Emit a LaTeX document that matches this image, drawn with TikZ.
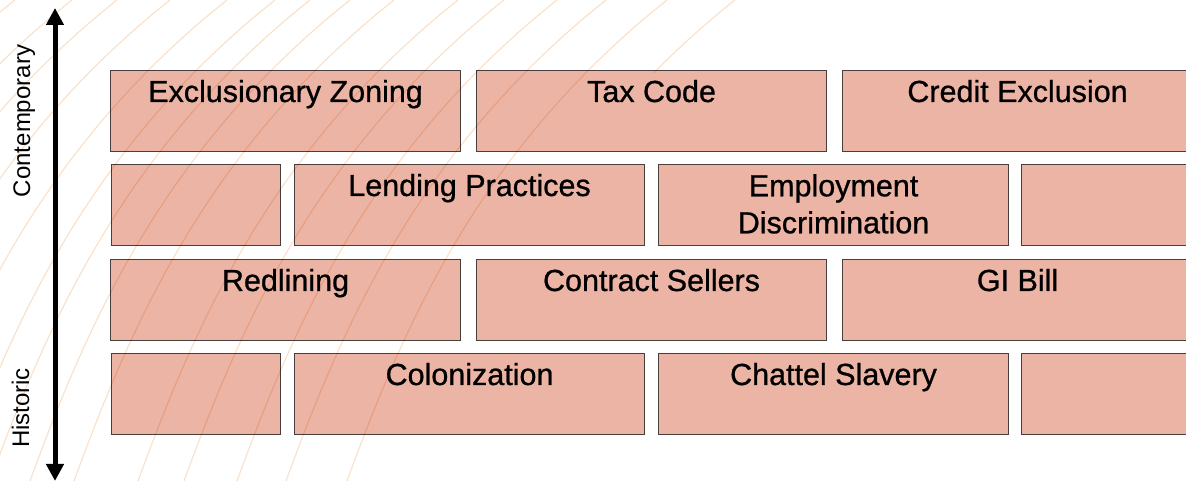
\documentclass[tikz,border=0pt]{standalone}
\usepackage{fontspec}
\setmainfont{Liberation Sans}
\newfontfamily\brickfont[FakeBold=0.8]{Liberation Sans}
\usetikzlibrary{arrows.meta}
\definecolor{brick}{RGB}{236,180,164}
\definecolor{brickline}{RGB}{72,62,60}
\definecolor{contour}{RGB}{250,224,200}
\tikzset{
  brickbox/.style={rectangle, draw=brickline, fill=brick, line width=1.1pt,
    minimum height=81pt, inner sep=0pt, anchor=north west},
  fullbrick/.style={brickbox, minimum width=350pt},
  halfbrick/.style={brickbox, minimum width=169pt},
  lbl/.style={font=\brickfont\fontsize{30.5}{37}\selectfont, anchor=base, inner sep=0pt, text=black},
  sidelbl/.style={font=\fontsize{24}{28}\selectfont, rotate=90, anchor=base, inner sep=0pt},
  bgline/.style={draw=contour, line width=1.1pt},
  timeaxis/.style={line width=5pt, {Triangle[width=17pt,length=17pt]}-{Triangle[width=17pt,length=17pt]}}
}
\begin{document}
\begin{tikzpicture}[x=1pt,y=1pt]
\clip (0,0) rectangle (1186,481);
\fill[white] (0,0) rectangle (1186,481);
% row 1 (top)
\node[fullbrick] (r1a) at (110,411) {};
\node[fullbrick] (r1b) at (476,411) {};
\node[fullbrick] (r1c) at (842,411) {};
% row 2
\node[halfbrick] (r2a) at (111,317) {};
\node[fullbrick] (r2b) at (294,317) {};
\node[fullbrick] (r2c) at (658,317) {};
\node[fullbrick] (r2d) at (1021,317) {};
% row 3
\node[fullbrick] (r3a) at (110,222) {};
\node[fullbrick] (r3b) at (476,222) {};
\node[fullbrick] (r3c) at (842,222) {};
% row 4 (bottom)
\node[halfbrick] (r4a) at (111,128) {};
\node[fullbrick] (r4b) at (294,128) {};
\node[fullbrick] (r4c) at (658,128) {};
\node[fullbrick] (r4d) at (1021,128) {};
% background contour lines
\begin{scope}[blend mode=multiply]
\foreach \b in {-305,-248,-203,-150,-93,-45,-10,30,74,138,184,237,286,347}{
  \draw[bgline] (\b,0) .. controls (\b+55,150) and (\b+130,330) .. (\b+320,481);
}
\begin{scope}
\clip (0,408) rectangle (1186,481);
\draw[bgline] (415,0) .. controls (470,150) and (545,330) .. (735,481);
\end{scope}
\end{scope}
% labels
\node[lbl] (t1a) at ([yshift=-32pt]r1a.north) {Exclusionary Zoning};
\node[lbl] (t1b) at ([yshift=-32pt]r1b.north) {Tax Code};
\node[lbl] (t1c) at ([yshift=-32pt]r1c.north) {Credit Exclusion};
\node[lbl] (t2b) at ([yshift=-32pt]r2b.north) {Lending Practices};
\node[lbl, align=center, anchor=north] (t2c) at ([yshift=-10pt]r2c.north) {Employment\\Discrimination};
\node[lbl] (t3a) at ([yshift=-32pt]r3a.north) {Redlining};
\node[lbl] (t3b) at ([yshift=-32pt]r3b.north) {Contract Sellers};
\node[lbl] (t3c) at ([yshift=-32pt]r3c.north) {GI Bill};
\node[lbl] (t4b) at ([yshift=-32pt]r4b.north) {Colonization};
\node[lbl] (t4c) at ([yshift=-32pt]r4c.north) {Chattel Slavery};
% time axis
\coordinate (axtop) at (55,473);
\coordinate (axbot) at (55,0);
\draw[timeaxis] (axbot) -- (axtop);
\node[sidelbl] (cont) at (30,360) {Contemporary};
\node[sidelbl] (hist) at (29,73) {Historic};
\end{tikzpicture}
\end{document}
